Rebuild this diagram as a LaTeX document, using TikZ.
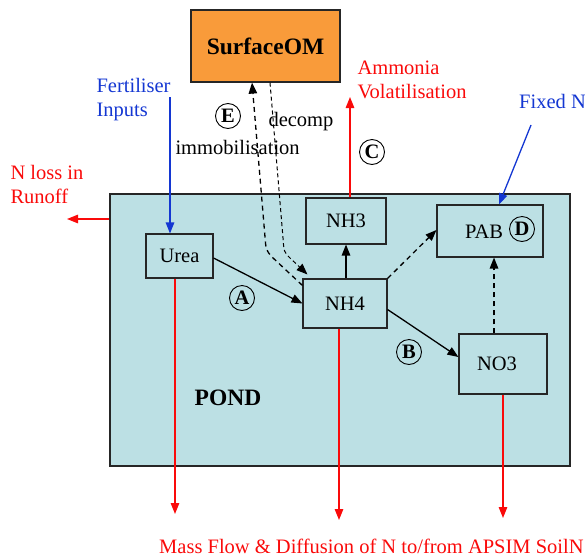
\documentclass[tikz,border=0pt]{standalone}
\usepackage{fontspec}
\setmainfont{Liberation Serif}
\usetikzlibrary{arrows.meta}
\definecolor{pondblue}{RGB}{188,224,228}
\definecolor{omorange}{RGB}{249,155,58}
\definecolor{inblue}{RGB}{20,55,210}
\definecolor{lossred}{RGB}{250,10,10}
\begin{document}
\begin{tikzpicture}[x=1pt, y=-1pt, font=\fontsize{20.5}{24}\selectfont,
		box/.style={draw=black!85, line width=1.1pt, fill=pondblue, inner sep=0pt},
		circtag/.style={draw, circle, line width=0.9pt, minimum size=25pt, inner sep=0pt, font=\fontsize{20.5}{24}\selectfont\bfseries},
		flow/.style={line width=1.3pt, -{Triangle[length=11pt,width=8.5pt]}},
		dflow/.style={flow, dash pattern=on 5pt off 4pt}]
	\useasboundingbox (0,0) rectangle (585,557);
	% pond and pools
	\node[box, fill=pondblue, minimum width=460pt, minimum height=272pt] (pond) at (340,330) {};
	\node[box, fill=omorange, line width=1.2pt, minimum width=149pt, minimum height=72pt, font=\fontsize{23.5}{26}\selectfont\bfseries] (som) at (265.5,46) {SurfaceOM};
	\node[box, minimum width=67pt, minimum height=44pt] (urea) at (179.5,256) {Urea};
	\node[box, minimum width=84pt, minimum height=49pt] (nh4) at (345,303.5) {NH4};
	\node[box, minimum width=80pt, minimum height=46pt] (nh3) at (346,221) {NH3};
	\node[box, minimum width=106pt, minimum height=52pt] (pab) at (490,231) {};
	\node (pabtxt) at (484,232) {PAB};
	\node[box, minimum width=88pt, minimum height=60pt] (no3) at (503,364) {\hspace*{-12pt}NO3};
	\node[font=\fontsize{23.5}{26}\selectfont\bfseries] (pondtxt) at (228,398) {POND};
	\foreach \l/\x/\y in {A/242/298, B/409/352, C/372/152, D/522/229, E/228/116}
		\node[circtag] (tag\l) at (\x,\y) {\l};
	% free ends
	\coordinate (fert) at (170,97); \coordinate (fix) at (531,125);
	\coordinate (vol) at (350,97); \coordinate (run) at (67,219);
	\coordinate (outA) at (175,514); \coordinate (outB) at (339,520); \coordinate (outC) at (503,518);
	\coordinate (im1) at (272,257); \coordinate (im2) at (265,237);
	\coordinate (de1) at (283,238); \coordinate (de2) at (290,258);
	% transformations
	\draw[flow] (urea.east) ++(0,2) -- (nh4.west);
	\draw[flow] (nh4.north -| nh3) -- (nh3.south);
	\draw[flow] (nh4.east) ++(0,6) -- ([yshift=7pt]no3.west);
	\draw[dflow] (nh4.north east) -- ([yshift=1pt]pab.west);
	\draw[dflow] (no3.north -| 494,0) -- (pab.south -| 494,0);
	\draw[dflow] ([yshift=-7pt]nh4.north west) -- (im1) .. controls (266,250) .. (im2) -- (som.south -| 252,0);
	\draw[flow, dash pattern=on 4pt off 3pt, line width=1pt] (som.south -| 270,0) -- (de1) .. controls (284,252) .. (de2) -- ([xshift=5pt,yshift=4pt]nh4.north west);
	% inputs and losses
	\draw[flow, inblue] (fert) -- (urea.north -| fert);
	\draw[flow, inblue] (fix) -- (pab.north -| 499,0);
	\draw[flow, lossred] (nh3.north -| vol) -- (vol);
	\draw[flow, lossred] (pond.west |- run) -- (run);
	\draw[flow, lossred] (urea.south -| outA) -- (outA);
	\draw[flow, lossred] (nh4.south -| outB) -- (outB);
	\draw[flow, lossred] (no3.south -| outC) -- (outC);
	% labels
	\node[anchor=west, align=left, text=lossred] (voltxt) at (354,80) {Ammonia\\Volatilisation};
	\node[anchor=west, align=left, text=inblue] (ferttxt) at (93,100) {Fertiliser\\Inputs};
	\node[anchor=west, align=left, text=lossred] (runtxt) at (7,184) {N loss in\\Runoff};
	\node[anchor=west, text=inblue, inner sep=0pt] (fixtxt) at (519,101) {Fixed N};
	\node[anchor=west] (detxt) at (265,122) {decomp};
	\node[anchor=west] (imtxt) at (172,147) {immobilisation};
	\node[anchor=base west, inner sep=0pt, text=lossred] (masstxt) at (159,553) {Mass Flow \& Diffusion of N to/from APSIM SoilN};
\end{tikzpicture}
\end{document}
